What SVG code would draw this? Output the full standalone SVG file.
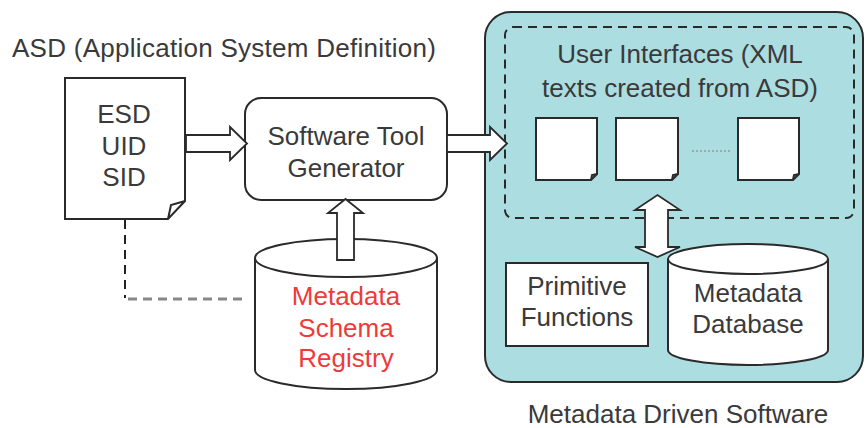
<svg xmlns="http://www.w3.org/2000/svg" width="866" height="428" viewBox="0 0 866 428">
<style>
text{font-family:"Liberation Sans",Arial,sans-serif;font-size:26px;fill:#3a3a3a;text-anchor:middle}
.shape{fill:#fff;stroke:#2a2a2a;stroke-width:2}
.barrow{fill:#fff;stroke:#2a2a2a;stroke-width:1.8;stroke-linejoin:miter}
.red{fill:#f03a3a}
</style>
<rect width="866" height="428" fill="#fff"/>
<g id="title"><text x="224" y="57" textLength="424">ASD (Application System Definition)</text></g>
<g id="msd">
<rect x="485" y="12" width="378" height="370" rx="26" fill="#abdde1" stroke="#2a2a2a" stroke-width="2"/>
</g>
<g id="ui-group">
<rect x="505" y="27" width="349" height="191" rx="8" fill="none" stroke="#2a2a2a" stroke-width="2" stroke-dasharray="9,6"/>
<text x="680" y="63">User Interfaces (XML</text>
<text x="680" y="97">texts created from ASD)</text>
<path class="shape" d="M536,118 H597 V174 L591,180 H536 Z M597,174 L592,175 L591,180"/>
<path class="shape" d="M616,118 H678 V174 L672,180 H616 Z M678,174 L673,175 L672,180"/>
<path class="shape" d="M738,118 H799 V174 L793,180 H738 Z M799,174 L794,175 L793,180"/>
<line x1="692" y1="151" x2="731" y2="151" stroke="#999" stroke-width="1.5" stroke-dasharray="2,2"/>
</g>
<g id="asd-doc">
<path class="shape" d="M65,78 H185 V201 L168,219 H65 Z M185,201 L171,205 L168,219"/>
<text x="124" y="123">ESD</text>
<text x="124" y="155">UID</text>
<text x="124" y="186">SID</text>
</g>
<g id="generator">
<rect class="shape" x="245" y="98" width="202" height="102" rx="16"/>
<text x="346" y="145">Software Tool</text>
<text x="346" y="177">Generator</text>
</g>
<g id="registry">
<path class="shape" d="M255,258 V370 A91,19 0 0 0 437,370 V258"/>
<ellipse class="shape" cx="346" cy="258" rx="91" ry="19"/>
<text class="red" x="346" y="305">Metadata</text>
<text class="red" x="346" y="337">Schema</text>
<text class="red" x="346" y="367">Registry</text>
</g>
<g id="primitive">
<rect class="shape" x="506" y="263" width="142" height="83"/>
<text x="577" y="295">Primitive</text>
<text x="577" y="326">Functions</text>
</g>
<g id="database">
<path class="shape" d="M668,259 V350 A80,15 0 0 0 828,350 V259"/>
<ellipse class="shape" cx="748" cy="259" rx="80" ry="15"/>
<text x="748" y="302">Metadata</text>
<text x="748" y="333">Database</text>
</g>
<g id="caption"><text x="678" y="423">Metadata Driven Software</text></g>
<g id="connectors">
<path class="barrow" d="M186,135 H230 V127 L247,143.5 L230,160 V152 H186 Z"/>
<path class="barrow" d="M447,135 H490 V127 L507,143.5 L490,160 V152 H447 Z"/>
<path class="barrow" d="M337,260 V213 H328 L345.5,199 L363,213 H354 V260 Z"/>
<path class="barrow" d="M645,210 H635 L657.5,195 L680,210 H668 V247 H680 L657.5,257 L635,247 H645 Z"/>
<path d="M125,220 V298" fill="none" stroke="#222" stroke-width="2" stroke-dasharray="9,6"/>
<path d="M128,299 H246" fill="none" stroke="#888" stroke-width="3" stroke-dasharray="9,6"/>
</g>
</svg>
